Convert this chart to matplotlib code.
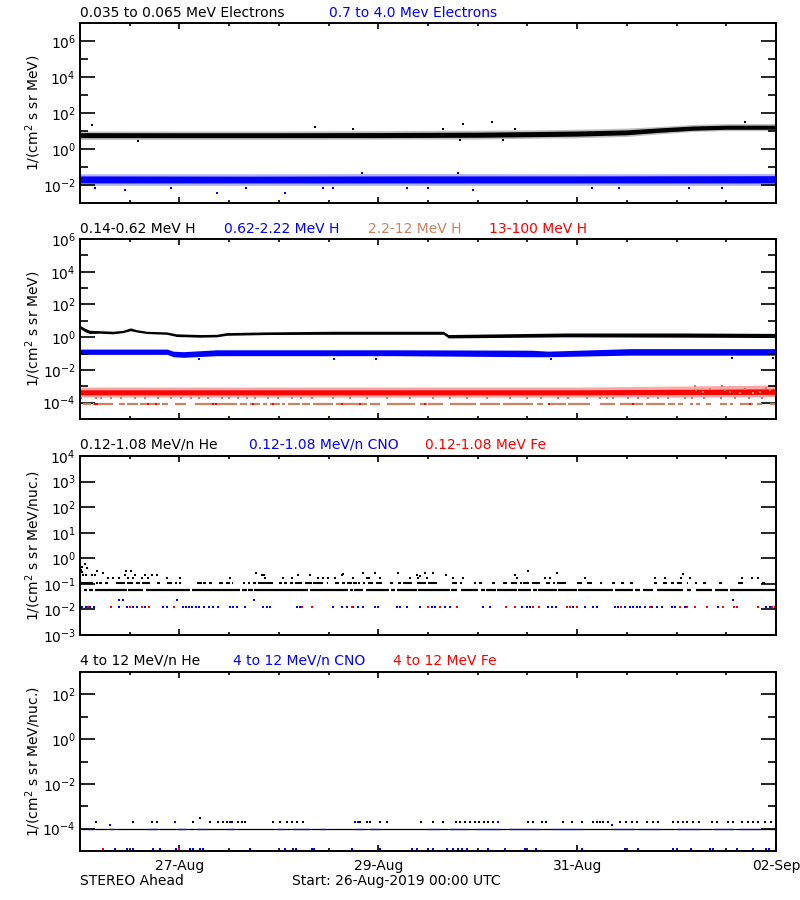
import numpy as np
import matplotlib
matplotlib.use("Agg")
import matplotlib.pyplot as plt
import matplotlib.dates as mdates
from matplotlib.ticker import FixedLocator, NullFormatter, FixedFormatter

# ---------------- data (hours since 26-Aug-2019 00:00 UTC) ----------------
START = np.datetime64('2019-08-26T00:00')

# Panel 1: electrons (band envelopes)
el_t = [0, 24, 48, 72, 96, 108, 120, 132, 140, 148, 156, 168]
el_core_lo = [4.3, 4.3, 4.3, 4.3, 4.5, 4.8, 5.2, 6.2, 8.5, 11, 12.5, 12.5]
el_core_hi = [8.1, 8.0, 8.0, 8.2, 8.6, 9.2, 10, 11.5, 15, 19, 21, 21]
el_out_lo = [3.4, 3.4, 3.4, 3.5, 3.6, 3.9, 4.2, 5.0, 7.0, 9.5, 10.5, 10.5]
el_out_hi = [10, 10, 10, 10.5, 11, 11.5, 12.5, 14.5, 18, 23, 26, 26]
el_pts_t = [2.8, 56.7, 66, 92.4, 99.4, 87.7, 105, 160.5, 14, 91.7, 102]
el_pts_v = [20.6, 16.7, 13.5, 23.5, 33, 13.5, 13.5, 33, 2.8, 3.2, 3.2]

eh_t = [0, 40, 80, 120, 168]
eh_core_lo = [0.013, 0.013, 0.013, 0.013, 0.013]
eh_core_hi = [0.032, 0.031, 0.032, 0.032, 0.033]
eh_out_lo = [0.0095, 0.0095, 0.0095, 0.0095, 0.0095]
eh_out_hi = [0.042, 0.042, 0.044, 0.042, 0.044]
eh_pts_t = [3.6, 10.9, 33, 49.5, 58.7, 61, 94.9, 168, 79, 84, 123.5, 155, 68, 91.3, 22, 40, 130, 147]
eh_pts_v = [0.0065, 0.0052, 0.0037, 0.0037, 0.0071, 0.007, 0.0052, 0.0052, 0.007, 0.0068,
            0.0065, 0.0065, 0.044, 0.048, 0.0068, 0.0066, 0.0067, 0.0066]

# Panel 2: protons
hl_t = [0, 1, 2.3, 4.7, 8, 10.4, 12.2, 13.6, 16.1, 20.9, 23.3, 29, 33, 35.4, 45, 61, 76, 87.7,
        88.9, 117, 145.6, 168]
hl_hi = [5.3, 3.7, 2.65, 2.5, 2.3, 2.65, 3.7, 2.9, 2.3, 2.1, 1.6, 1.45, 1.5, 1.9, 2.1, 2.3, 2.3,
         2.3, 1.45, 1.8, 1.8, 1.7]
hl_lo = [3.4, 2.3, 1.67, 1.75, 1.6, 1.9, 2.5, 2.1, 1.67, 1.5, 1.1, 1.0, 1.05, 1.3, 1.45, 1.5, 1.5,
         1.5, 0.9, 1.05, 1.0, 0.95]

hm_t = [0, 21, 22.5, 25, 33, 76, 109, 113, 133, 168]
hm_hi = [0.187, 0.187, 0.14, 0.13, 0.17, 0.17, 0.16, 0.14, 0.2, 0.2]
hm_lo = [0.089, 0.089, 0.064, 0.059, 0.074, 0.074, 0.064, 0.064, 0.08, 0.08]
hm_pts_t = [28.7, 61.3, 71.4, 113.8, 157.3, 167.2]
hm_pts_v = [0.046, 0.048, 0.046, 0.046, 0.055, 0.055]

hr_t = [0, 60, 120, 148, 168]
hr_core_lo = [3.0e-4, 3.0e-4, 3.0e-4, 3.1e-4, 3.2e-4]
hr_core_hi = [6.1e-4, 6.1e-4, 6.1e-4, 6.5e-4, 7.0e-4]
hr_out_lo = [2.2e-4, 2.2e-4, 2.2e-4, 2.2e-4, 2.3e-4]
hr_out_hi = [9.0e-4, 9.0e-4, 9.0e-4, 1.05e-3, 1.2e-3]
hr_low_t = [3.6, 4.0, 16.5, 18.4, 32.2, 32.8, 41.8, 46.7, 63.2, 67.6, 83.3, 113.3, 133.6, 161.7]
hr_low_v = [8e-5] * 14

ht_low_level = 8.7e-5
ht_low_segs = [(0.8, 2.6), (3.2, 8.0), (9.3, 10.9), (11.3, 14.1), (14.5, 19.3), (19.7, 21.3),
               (22.9, 25.7), (27.8, 32.6), (33.0, 37.8), (38.6, 40.2), (41.0, 43.4), (44.1, 45.1),
               (45.9, 48.3), (48.7, 49.5), (50.3, 53.1), (53.5, 55.5), (56.3, 61.1), (61.9, 69.2),
               (70.0, 72.4), (74.0, 80.9), (82.1, 83.7), (84.1, 87.7), (89.3, 95.7), (96.5, 101.4),
               (102.2, 109.4), (110.2, 111.8), (113.4, 117.4), (117.8, 123.1), (125.5, 129.1),
               (130.3, 135.9), (136.7, 141.2), (142.0, 143.6), (144.4, 145.6), (147.2, 148.0),
               (148.8, 149.6), (151.2, 152.2), (154.4, 156.1), (156.9, 157.7), (159.3, 162.5),
               (163.3, 164.5), (166.5, 168.0)]
ht_up_level = 1.9e-4
ht_up_t = [0.3, 3.8, 5.0, 7.4, 9.9, 13.3, 15.6, 18.9, 21.9, 24.3, 26.9, 28.8, 31.0, 34.2, 36.0,
           38.1, 40.4, 42.2, 45.3, 47.9, 51.1, 53.3, 55.9, 61.1, 65.2, 69.2, 74.0, 79.7, 85.3,
           89.3, 93.3, 98.2, 103.8, 107.8, 111.3, 115.4, 117.8, 122.3, 125.5, 127.1, 128.7,
           132.3, 134.8, 137.0, 139.6, 142.0, 146.0, 147.7, 150.7, 154.8, 158.1, 161.6, 164.5]
ht_band_t = [148.4, 148.8, 150.5, 152, 154.9, 155.7, 157, 159.3, 160.5, 162.5, 164.1, 165.5, 166.5]
ht_band_v = [9.8e-4, 6e-4, 4.5e-4, 7e-4, 9.8e-4, 5.6e-4, 4.2e-4, 4e-4, 6.5e-4, 3.7e-4, 4.5e-4,
             8e-4, 6e-4]

# Panel 3: 0.12-1.08 MeV/n
he3_line = 0.055
he3_line_segs = [(1.0, 1.6), (2.2, 3.1), (3.6, 11.3), (11.7, 15.3), (15.9, 26.6), (27.0, 38.6),
                 (39.0, 40.2), (40.6, 41.7), (42.1, 55.1), (55.5, 64.8), (65.2, 65.8),
                 (66.2, 68.2), (69.0, 74.7), (75.0, 76.0), (76.6, 81.3), (81.7, 89.2),
                 (89.5, 90.9), (92.0, 96.1), (96.8, 97.7), (98.0, 100.4), (100.7, 105.4),
                 (105.8, 108.8), (109.3, 110.2), (110.5, 115.1), (115.4, 119.9), (120.3, 128.7),
                 (129.1, 133.6), (134.0, 135.2), (136.0, 138.4), (139.2, 145.6), (146.4, 147.6),
                 (148.8, 152.5), (153.3, 156.5), (156.9, 168.0)]
he3_mid = 0.11
he3_mid_segs = [(0, 3.2), (3.9, 4.4), (4.7, 5.2), (6.0, 6.8), (8.7, 10.9), (11.3, 12.9),
                (13.5, 14.5), (14.9, 16.9), (18.7, 19.3), (21.1, 22.1), (22.9, 23.3), (23.9, 24.5),
                (28.2, 29.4), (29.8, 30.4), (31.2, 31.8), (33.6, 34.6), (35.2, 36.2), (36.6, 37.0),
                (39.3, 39.8), (40.6, 41.0), (41.8, 42.5), (43.0, 46.5), (48.1, 48.7), (49.2, 49.9),
                (50.7, 51.5), (51.9, 53.5), (54.3, 55.9), (56.3, 58.7), (59.5, 59.9), (61.6, 62.4),
                (63.2, 64.0), (64.5, 65.6), (66.0, 66.8), (67.2, 67.7), (68.2, 68.8), (69.6, 70.8),
                (71.4, 72.8), (74.8, 75.6), (76.8, 77.6), (78.0, 80.1), (81.3, 83.5), (84.1, 86.1),
                (89.7, 90.9), (91.7, 92.1), (95.0, 95.7), (96.4, 97.0), (99.4, 100.2),
                (102.2, 103.0), (104.0, 105.4), (106.2, 106.6), (107.0, 108.5), (109.0, 111.0),
                (112.6, 113.4), (114.1, 114.6), (115.2, 117.3), (119.9, 121.1), (122.3, 123.5),
                (125.4, 125.9), (128.3, 129.1), (130.7, 131.3), (132.8, 133.6), (138.5, 139.2),
                (140.8, 141.6), (142.6, 143.4), (144.2, 145.2), (146.4, 146.8), (148.4, 149.0),
                (150.5, 151.1), (154.2, 154.9), (158.9, 160.1), (164.5, 165.3)]
he3_pts_t = [1.2, 0.4, 1.8, 4.0, 0.8, 1.4, 2.8, 3.6, 5.5, 6.8, 8.0, 9.3, 11.1, 12.2, 10.9, 13.3,
             15.7, 17.3, 18.5, 11.7, 12.9, 14.9, 16.5, 20.9, 24.1, 36.2, 42.5, 43.9, 44.3, 44.7,
             49.1, 51.1, 52.7, 55.5, 57.5, 63.2, 63.6, 68.2, 71.2, 76.8, 81.3, 82.1, 83.3, 85.3,
             88.3, 105.0, 108.2, 115.1, 58.7, 59.9, 61.5, 66.0, 69.2, 69.8, 72.3, 79.6, 81.7,
             83.7, 90.1, 92.5, 105.4, 112.2, 113.4, 121.9, 138.8, 141.2, 145.0, 145.6, 147.2,
             159.7, 162.1, 163.7, 0.2, 0.6]
he3_pts_v = [0.58, 0.46, 0.40, 0.32, 0.22, 0.22, 0.22, 0.22, 0.27, 0.166, 0.166, 0.166, 0.32,
             0.32, 0.22, 0.22, 0.22, 0.22, 0.22, 0.166, 0.166, 0.166, 0.166, 0.166, 0.166, 0.166,
             0.27, 0.22, 0.22, 0.166, 0.166, 0.166, 0.22, 0.22, 0.166, 0.22, 0.24, 0.27, 0.27,
             0.27, 0.22, 0.2, 0.27, 0.27, 0.22, 0.22, 0.32, 0.27, 0.166, 0.166, 0.166, 0.166,
             0.166, 0.166, 0.166, 0.166, 0.166, 0.166, 0.166, 0.166, 0.166, 0.166, 0.166, 0.166,
             0.166, 0.166, 0.166, 0.25, 0.166, 0.166, 0.166, 0.166, 0.35, 0.28]
cno3_level = 0.0123
cno3_t = [0.5, 1.5, 2.5, 3.3, 9.4, 11.3, 12.9, 13.8, 15.8, 20.1, 20.9, 24.8, 25.5, 26.3, 27.1,
          28.0, 28.8, 29.9, 31.1, 32.2, 33.4, 36.2, 37.0, 38.0, 39.8, 44.2, 45.1, 45.9, 52.3,
          53.1, 61.1, 63.2, 64.4, 66.0, 67.2, 68.4, 71.2, 72.0, 76.4, 77.2, 78.9, 82.1, 84.9,
          85.7, 88.1, 89.3, 97.3, 99.0, 106.8, 107.8, 108.6, 113.0, 113.9, 114.9, 119.1, 121.9,
          123.9, 124.7, 129.1, 129.9, 131.5, 132.8, 133.6, 134.4, 135.2, 136.4, 138.0, 139.2,
          140.4, 142.8, 143.6, 146.0, 154.1, 165.7, 166.6]
cno3_hi_t = [9.4, 10.4, 23.3, 42.1, 157.7]
cno3_hi_v = [0.024, 0.024, 0.024, 0.024, 0.024]
fe3_t = [7.5, 12.1, 14.9, 16.7, 22.7, 53.5, 55.9, 65.6, 84.1, 86.9, 90.9, 102.8, 105.0, 109.3,
         110.9, 117.5, 118.3, 119.9, 130.7, 137.6, 144.8, 146.4, 148.4, 151.3, 155.3, 157.9,
         158.5, 163.7, 167.0, 167.7, 2.0]

# Panel 4: 4-12 MeV/n
he4_line = 1.0e-4
he4_pts_t = [3.9, 12.7, 17.3, 18.5, 22.9, 27.2, 29.0, 31.4, 33.4, 34.4, 35.4, 36.6, 38.2, 39.0,
             39.8, 46.7, 48.3, 50.0, 51.1, 52.3, 53.9, 66.4, 67.6, 69.2, 70.0, 72.4, 74.0, 82.2,
             85.3, 87.7, 90.8, 91.7, 92.9, 94.1, 95.3, 96.4, 97.4, 98.6, 99.6, 108.2, 109.4,
             111.4, 112.6, 116.7, 118.7, 121.1, 123.9, 124.7, 125.4, 126.3, 127.5, 130.3, 131.9,
             133.2, 134.4, 136.8, 138.4, 139.6, 143.2, 144.4, 146.4, 148.0, 149.3, 152.5, 153.7,
             156.5, 157.7, 159.7, 161.3, 162.5, 163.7, 165.3, 166.9]
he4_pts_v = [2e-4] * 6 + [3e-4] + [2e-4] * 66
cno4_line_segs = [(1.8, 2.8), (7.2, 8.0), (16.1, 18.5), (23.3, 25.7), (28.2, 31.0), (35.4, 37.0),
                  (47.5, 49.1), (51.5, 55.5), (57.9, 59.1), (66.4, 68.4), (70.0, 72.4),
                  (83.7, 86.9), (89.3, 93.3), (95.7, 101.4), (103.8, 111.0), (113.8, 121.5),
                  (128.7, 133.6), (135.2, 140.0), (144.0, 149.7), (152.9, 157.7), (159.3, 164.1),
                  (167.3, 168.0)]
cno4_hi_t = [7.2, 22.9, 36.2, 66.4, 67.2, 101.0, 128.3, 145.6]
cno4_hi_v = [1.4e-4, 2e-4, 2e-4, 2e-4, 2e-4, 2e-4, 1.4e-4, 2e-4]
low4_level = 1.2e-5
cno4_low_t = [8.4, 11.3, 12.7, 17.5, 19.3, 23.2, 26.6, 27.2, 29.0, 29.6, 41.0, 49.5, 51.5, 52.1,
              55.9, 56.5, 65.6, 72.4, 80.1, 81.3, 84.1, 85.3, 88.5, 90.1, 91.3, 92.1, 93.3,
              98.6, 102.6, 107.4, 110.1, 121.1, 131.5, 134.8, 143.2, 144.0, 147.6, 152.1, 152.9,
              158.5, 162.5, 165.7, 166.4]
fe4_low_t = [5.5, 24.0]

# ---------------- styling helpers ----------------
BLUE = '#0000ff'
RED = '#ff0000'
TAN = '#cd8264'
FS = 10


def tt(h):
    return START + (np.asarray(h, dtype=float) * 3600).astype('timedelta64[s]')


def seg(ax, level, segs, color, lw):
    starts = tt([s for s, e in segs])
    ends = tt([e for s, e in segs])
    ax.hlines([level] * len(segs), starts, ends, colors=color, lw=lw)


def dots(ax, t, v, color, ms=1.5):
    ax.plot(tt(t), v, 's', ms=ms, mew=0, color=color, ls='none')


def band(ax, t, lo, hi, color, alpha=1.0):
    ax.fill_between(tt(t), lo, hi, color=color, lw=0, alpha=alpha)


W, H = 800, 900
fig = plt.figure(figsize=(8, 9), dpi=100)


def px_axes(top, bottom):
    return fig.add_axes([80 / W, 1 - bottom / H, 696 / W, (bottom - top) / H])


def setup(ax, ylim, majors, minors, show_x=False):
    ax.set_yscale('log')
    ax.set_ylim(*ylim)
    ax.set_xlim(tt(0), tt(168))
    ax.yaxis.set_major_locator(FixedLocator([10.0 ** k for k in majors]))
    ax.yaxis.set_major_formatter(FixedFormatter([r'$10^{%d}$' % k for k in majors]))
    ax.yaxis.set_minor_locator(FixedLocator([10.0 ** k for k in minors]))
    ax.yaxis.set_minor_formatter(NullFormatter())
    ax.xaxis.set_major_locator(mdates.DayLocator(bymonthday=[27, 29, 31, 2]))
    ax.xaxis.set_minor_locator(mdates.HourLocator(byhour=[0, 12]))
    ax.xaxis.set_major_formatter(mdates.DateFormatter('%d-%b'))
    ax.tick_params(axis='y', which='major', direction='in', length=11, width=1.2,
                   left=True, right=True, labelsize=FS, pad=3)
    ax.tick_params(axis='y', which='minor', direction='in', length=5.5, width=1.2,
                   left=True, right=True)
    ax.tick_params(axis='x', which='major', direction='in', length=4, width=1.2,
                   top=True, bottom=True, labelsize=FS, pad=6)
    ax.tick_params(axis='x', which='minor', direction='in', length=2.5, width=1.2,
                   top=True, bottom=True)
    if not show_x:
        ax.tick_params(axis='x', labelbottom=False)
    for s in ax.spines.values():
        s.set_linewidth(1.4)


def ftext(x, y, s, color='black', **kw):
    fig.text(x / W, 1 - y / H, s, color=color, fontsize=FS, va='center', **kw)


# ---------------- Panel 1 ----------------
ax1 = px_axes(23, 203)
setup(ax1, (1e-3, 1e7), [6, 4, 2, 0, -2], [5, 3, 1, -1])
band(ax1, el_t, el_out_lo, el_out_hi, 'black', 0.25)
band(ax1, el_t, el_core_lo, el_core_hi, 'black')
dots(ax1, el_pts_t, el_pts_v, 'black')
band(ax1, eh_t, eh_out_lo, eh_out_hi, BLUE, 0.3)
band(ax1, eh_t, eh_core_lo, eh_core_hi, BLUE)
dots(ax1, eh_pts_t, eh_pts_v, BLUE)

# ---------------- Panel 2 ----------------
ax2 = px_axes(239, 419)
setup(ax2, (1e-5, 1e6), [6, 4, 2, 0, -2, -4], [5, 3, 1, -1, -3])
band(ax2, hl_t, hl_lo, hl_hi, 'black')
band(ax2, hm_t, hm_lo, hm_hi, BLUE)
dots(ax2, hm_pts_t, hm_pts_v, BLUE)
seg(ax2, ht_low_level, ht_low_segs, TAN, 1.6)
dots(ax2, ht_up_t, [ht_up_level] * len(ht_up_t), TAN, ms=1.6)
band(ax2, hr_t, hr_out_lo, hr_out_hi, RED, 0.35)
band(ax2, hr_t, hr_core_lo, hr_core_hi, RED)
dots(ax2, hr_low_t, hr_low_v, RED)
dots(ax2, ht_band_t, ht_band_v, TAN, ms=2.0)

# ---------------- Panel 3 ----------------
ax3 = px_axes(456, 635)
setup(ax3, (1e-3, 1e4), [4, 3, 2, 1, 0, -1, -2, -3], [])
seg(ax3, he3_line, he3_line_segs, 'black', 1.6)
seg(ax3, he3_mid, he3_mid_segs, 'black', 1.5)
dots(ax3, he3_pts_t, he3_pts_v, 'black', ms=1.6)
dots(ax3, cno3_t, [cno3_level] * len(cno3_t), BLUE, ms=2.1)
dots(ax3, cno3_hi_t, cno3_hi_v, BLUE, ms=2.1)
dots(ax3, fe3_t, [cno3_level] * len(fe3_t), RED, ms=2.1)

# ---------------- Panel 4 ----------------
ax4 = px_axes(672, 851)
setup(ax4, (1e-5, 1e3), [2, 0, -2, -4], [1, -1, -3], show_x=True)
seg(ax4, he4_line, [(0.5, 168.0)], 'black', 0.9)
seg(ax4, he4_line, cno4_line_segs, BLUE, 0.9)
dots(ax4, he4_pts_t, he4_pts_v, 'black', ms=1.5)
dots(ax4, cno4_hi_t, cno4_hi_v, BLUE, ms=1.5)
dots(ax4, cno4_low_t, [low4_level] * len(cno4_low_t), BLUE, ms=1.6)
dots(ax4, fe4_low_t, [low4_level] * len(fe4_low_t), RED, ms=1.6)

# ---------------- Text ----------------
ftext(80, 13, '0.035 to 0.065 MeV Electrons')
ftext(329, 13, '0.7 to 4.0 Mev Electrons', BLUE)
ftext(80, 229, '0.14-0.62 MeV H')
ftext(224, 229, '0.62-2.22 MeV H', BLUE)
ftext(368, 229, '2.2-12 MeV H', TAN)
ftext(489, 229, '13-100 MeV H', RED)
ftext(80, 445, '0.12-1.08 MeV/n He')
ftext(249, 445, '0.12-1.08 MeV/n CNO', BLUE)
ftext(425, 445, '0.12-1.08 MeV Fe', RED)
ftext(80, 661, '4 to 12 MeV/n He')
ftext(233, 661, '4 to 12 MeV/n CNO', BLUE)
ftext(393, 661, '4 to 12 MeV Fe', RED)

for top, bot, lab in [(23, 203, r'1/(cm$^2$ s sr MeV)'), (239, 419, r'1/(cm$^2$ s sr MeV)'),
                      (456, 635, r'1/(cm$^2$ s sr MeV/nuc.)'),
                      (672, 851, r'1/(cm$^2$ s sr MeV/nuc.)')]:
    fig.text(33 / W, 1 - (top + bot) / 2 / H, lab, rotation=90, fontsize=FS,
             ha='center', va='center')

ftext(80, 881, 'STEREO Ahead')
ftext(292, 881, 'Start: 26-Aug-2019 00:00 UTC')

fig.savefig('out.png', dpi=100)
